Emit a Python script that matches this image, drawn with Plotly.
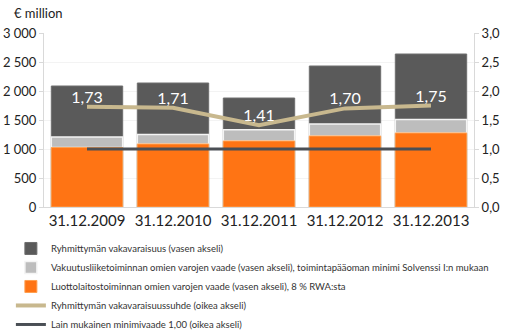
import plotly.graph_objects as go

categories = ["31.12.2009", "31.12.2010", "31.12.2011", "31.12.2012", "31.12.2013"]
group_capital = [2086, 2138, 1879, 2431, 2638]          # Ryhmittymän vakavaraisuus
credit_req = [1025, 1086, 1138, 1224, 1276]             # Luottolaitostoiminnan omien varojen vaade
insurance_req = [181, 164, 195, 206, 231]               # Vakuutusliiketoiminnan omien varojen vaade
ratio = [1.73, 1.71, 1.41, 1.70, 1.75]                   # vakavaraisuussuhde
minimum = [1.00, 1.00, 1.00, 1.00, 1.00]                 # Lain mukainen minimivaade

names = [
    "Ryhmittymän vakavaraisuus (vasen akseli)",
    "Vakuutusliiketoiminnan omien varojen vaade (vasen akseli), toimintapääoman minimi Solvenssi I:n mukaan",
    "Luottolaitostoiminnan omien varojen vaade (vasen akseli), 8 % RWA:sta",
    "Ryhmittymän vakavaraisuussuhde (oikea akseli)",
    "Lain mukainen minimivaade 1,00 (oikea akseli)",
]

font = "Lato, 'Open Sans', sans-serif"
fig = go.Figure()
fig.add_trace(go.Bar(x=categories, y=group_capital, name=names[0],
                     marker=dict(color="#5a5a5a", line=dict(color="#6e6e6e", width=1))))
fig.add_trace(go.Bar(x=categories, y=insurance_req, base=credit_req, name=names[1],
                     marker=dict(color="#bdbdbd", line=dict(color="#f4f4f4", width=1.5))))
fig.add_trace(go.Bar(x=categories, y=credit_req, name=names[2],
                     marker=dict(color="#ff7414", line=dict(color="#ffa050", width=1))))
fig.add_trace(go.Scatter(x=categories, y=ratio, yaxis="y2", name=names[3],
                         mode="lines+text", text=[f"{v:.2f}".replace(".", ",") for v in ratio],
                         textposition="top center", textfont=dict(color="white", size=16, family=font),
                         line=dict(color="#c8b88e", width=4)))
fig.add_trace(go.Scatter(x=categories, y=minimum, yaxis="y2", name=names[4],
                         mode="lines", line=dict(color="#4a4f55", width=3)))

fig.update_layout(
    width=508, height=333,
    margin=dict(l=44, r=34, t=33, b=126, autoexpand=False),
    barmode="overlay", bargap=0.17,
    separators=", ",
    plot_bgcolor="white", paper_bgcolor="white",
    font=dict(family=font, color="#222222"),
    showlegend=True,
    legend=dict(x=-0.077, xanchor="left", y=-0.155, yanchor="top", traceorder="normal",
                font=dict(size=9.5, color="#333333"), itemwidth=30,
                bgcolor="rgba(0,0,0,0)"),
    xaxis=dict(tickfont=dict(size=15), showline=True, linecolor="#d9d9d9", ticks=""),
    yaxis=dict(range=[0, 3000], dtick=500, tickformat=",d", tickfont=dict(size=13),
               showline=True, linecolor="#d9d9d9", ticks="outside", ticklen=4, tickcolor="#d9d9d9",
               showgrid=True, gridcolor="#f3f3f3", zeroline=False),
    yaxis2=dict(range=[0, 3], dtick=0.5, tickformat=".1f", overlaying="y", side="right",
                tickfont=dict(size=13), showline=True, linecolor="#d9d9d9", ticks="outside",
                ticklen=4, tickcolor="#d9d9d9", showgrid=False, zeroline=False),
    annotations=[dict(text="€ million", xref="paper", yref="paper", x=-0.075, y=1.0, yshift=20,
                      xanchor="left", yanchor="middle", showarrow=False, font=dict(size=13))],
)

fig.write_html("out.html")
